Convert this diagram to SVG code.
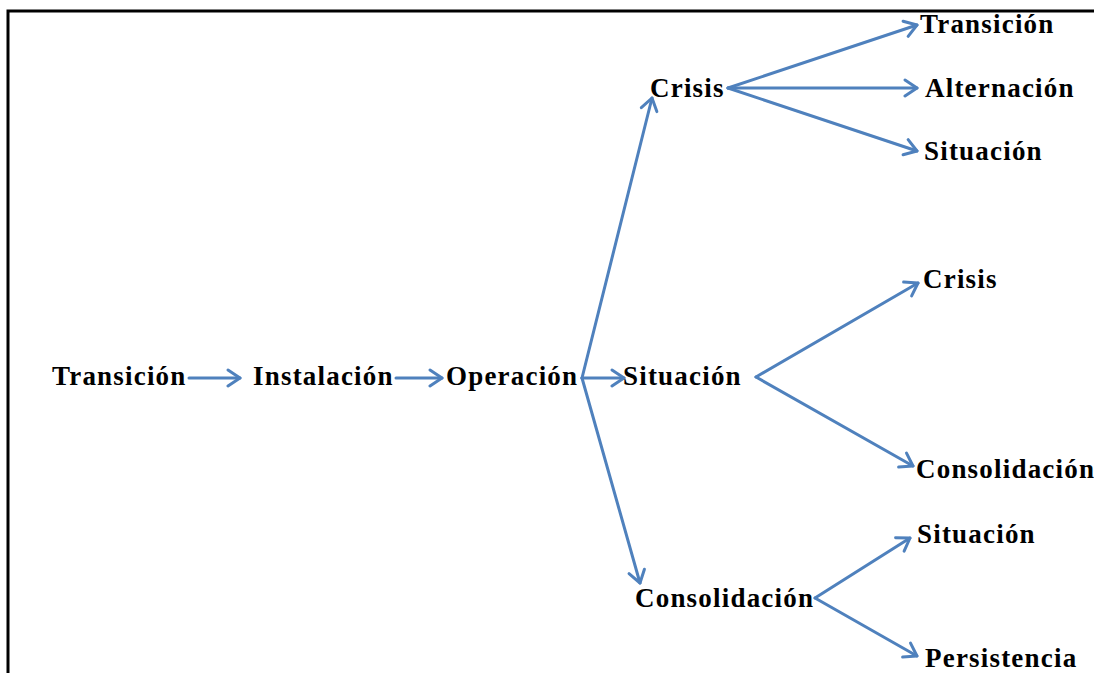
<svg xmlns="http://www.w3.org/2000/svg" width="1094" height="673" viewBox="0 0 1094 673">
  <defs>
    <marker id="arrow" markerUnits="userSpaceOnUse" markerWidth="20" markerHeight="20" viewBox="-14 -10 16 20" refX="0" refY="0" orient="auto">
      <path d="M-12,-8 L0,0 L-12,8" fill="none" stroke="#4f81bd" stroke-width="3" stroke-linecap="round" stroke-linejoin="round"/>
    </marker>
    <style>
      .lbl { font-family: "Liberation Serif", "Times New Roman", serif; font-weight: bold; font-size: 27px; letter-spacing: 1.2px; fill: #000; }
      .edge { fill: none; stroke: #4f81bd; stroke-width: 3; stroke-linecap: round; marker-end: url(#arrow); }
      .frame { fill: none; stroke: #000; stroke-width: 3; }
    </style>
  </defs>
  <rect width="1094" height="673" fill="#fff"/>

  <!-- frame -->
  <path class="frame" d="M8,673 V11 H1094"/>

  <!-- connectors -->
  <g id="connectors">
    <path class="edge" d="M189,378 H240"/>
    <path class="edge" d="M396,378 H442"/>
    <path class="edge" d="M582,378 H624"/>
    <path class="edge" d="M582,378 L652,98"/>
    <path class="edge" d="M582,378 L640,583"/>
    <path class="edge" d="M728,88 L917,25"/>
    <path class="edge" d="M728,88 L917,88"/>
    <path class="edge" d="M728,88 L917,151"/>
    <path class="edge" d="M756,377 L918,283"/>
    <path class="edge" d="M756,377 L913,466"/>
    <path class="edge" d="M815,598 L910,538"/>
    <path class="edge" d="M815,598 L917,656"/>
  </g>

  <!-- nodes -->
  <g id="n-transicion"><text class="lbl" x="52" y="385">Transición</text></g>
  <g id="n-instalacion"><text class="lbl" x="253" y="385">Instalación</text></g>
  <g id="n-operacion"><text class="lbl" x="446" y="385">Operación</text></g>
  <g id="n-situacion"><text class="lbl" x="623" y="385">Situación</text></g>
  <g id="n-crisis"><text class="lbl" x="650" y="97">Crisis</text></g>
  <g id="n-consolidacion"><text class="lbl" x="635" y="607">Consolidación</text></g>
  <g id="n-crisis-transicion"><text class="lbl" x="920" y="33">Transición</text></g>
  <g id="n-crisis-alternacion"><text class="lbl" x="925" y="97">Alternación</text></g>
  <g id="n-crisis-situacion"><text class="lbl" x="924" y="160">Situación</text></g>
  <g id="n-situacion-crisis"><text class="lbl" x="923" y="288">Crisis</text></g>
  <g id="n-situacion-consolidacion"><text class="lbl" x="916" y="478">Consolidación</text></g>
  <g id="n-consolidacion-situacion"><text class="lbl" x="917" y="543">Situación</text></g>
  <g id="n-consolidacion-persistencia"><text class="lbl" x="925" y="667">Persistencia</text></g>
</svg>
